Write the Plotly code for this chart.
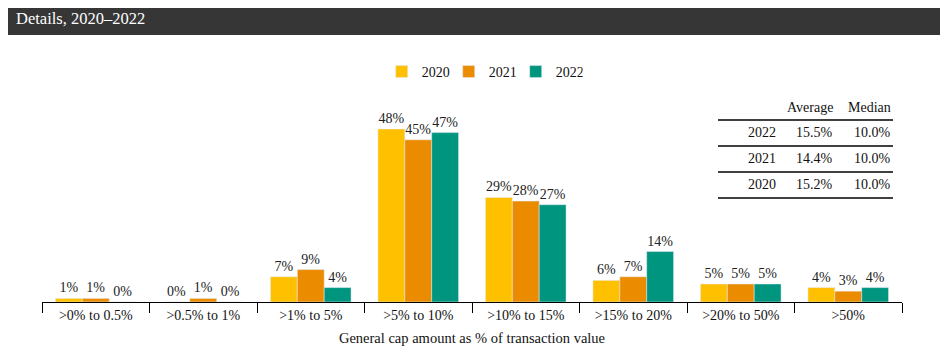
import plotly.graph_objects as go

categories = [">0% to 0.5%", ">0.5% to 1%", ">1% to 5%", ">5% to 10%",
              ">10% to 15%", ">15% to 20%", ">20% to 50%", ">50%"]
years = ["2020", "2021", "2022"]
values_2020 = [1, 0, 7, 48, 29, 6, 5, 4]
values_2021 = [1, 1, 9, 45, 28, 7, 5, 3]
values_2022 = [0, 0, 4, 47, 27, 14, 5, 4]
colors = ["#FFC000", "#EB8C00", "#00957F"]

table_years = ["2022", "2021", "2020"]
table_average = ["15.5%", "14.4%", "15.2%"]
table_median = ["10.0%", "10.0%", "10.0%"]
table_headers = ["Average", "Median"]

title_text = "Details, 2020–2022"
x_title = "General cap amount as % of transaction value"

OFF = 8  # page body margin
W, H = 948 - OFF, 355 - OFF
L, R, T, B = 42 - OFF, 46, 95 - OFF, 53
PW, PH = W - L - R, H - T - B
FONT = "Liberation Serif"

def px(x):
    return (x - OFF - L) / PW

def py(y):
    return (H - B - (y - OFF)) / PH

fig = go.Figure()
for name, vals, col in zip(years, [values_2020, values_2021, values_2022], colors):
    fig.add_trace(go.Bar(
        x=categories, y=vals, name=name, marker_color=col,
        text=[f"{v}%" for v in vals], textposition="outside",
        textfont=dict(family=FONT, size=14, color="#222"),
        cliponaxis=False,
    ))

shapes = [
    dict(type="rect", xref="paper", yref="paper",
         x0=px(5), x1=px(943), y0=py(35), y1=py(4),
         fillcolor="#363636", line=dict(width=0), layer="below"),
]
annotations = [
    dict(text=title_text, xref="paper", yref="paper", x=px(14), y=py(19),
         xanchor="left", yanchor="middle", showarrow=False,
         font=dict(family=FONT, size=16.5, color="white")),
]

# Table
line_ys = [120, 146, 172, 198]
for ly in line_ys:
    shapes.append(dict(type="line", xref="paper", yref="paper",
                       x0=px(718), x1=px(893), y0=py(ly), y1=py(ly),
                       line=dict(color="black", width=1.3)))
annotations.append(dict(text=table_headers[0], xref="paper", yref="paper",
                        x=px(835), y=py(107), xanchor="right", yanchor="middle",
                        showarrow=False, font=dict(family=FONT, size=14, color="#111")))
annotations.append(dict(text=table_headers[1], xref="paper", yref="paper",
                        x=px(893), y=py(107), xanchor="right", yanchor="middle",
                        showarrow=False, font=dict(family=FONT, size=14, color="#111")))
row_ys = [132, 158, 184]
for ry, yr, av, md in zip(row_ys, table_years, table_average, table_median):
    for txt, xr in [(yr, 778), (av, 835), (md, 893)]:
        annotations.append(dict(text=txt, xref="paper", yref="paper",
                                x=px(xr), y=py(ry), xanchor="right", yanchor="middle",
                                showarrow=False,
                                font=dict(family=FONT, size=14, color="#111")))

fig.update_layout(
    width=W, height=H,
    margin=dict(l=L, r=R, t=T, b=B),
    paper_bgcolor="white", plot_bgcolor="white",
    barmode="group", bargap=0.25, bargroupgap=0,
    font=dict(family=FONT, size=14, color="#111"),
    showlegend=True,
    legend=dict(orientation="h", x=px(386) - 0.005, xanchor="left", y=py(72), yanchor="middle",
                font=dict(family=FONT, size=14), itemwidth=30, traceorder="normal",
                entrywidth=22, entrywidthmode="pixels"),
    shapes=shapes,
    annotations=annotations,
    xaxis=dict(showline=True, linecolor="black", linewidth=1.3,
               ticks="outside", tickson="boundaries", ticklen=10, tickcolor="black",
               tickfont=dict(family=FONT, size=14),
               title=dict(text=x_title, font=dict(family=FONT, size=14.5), standoff=10)),
    yaxis=dict(visible=False, range=[0, PH / 3.604]),
)

fig.write_html("out.html")
